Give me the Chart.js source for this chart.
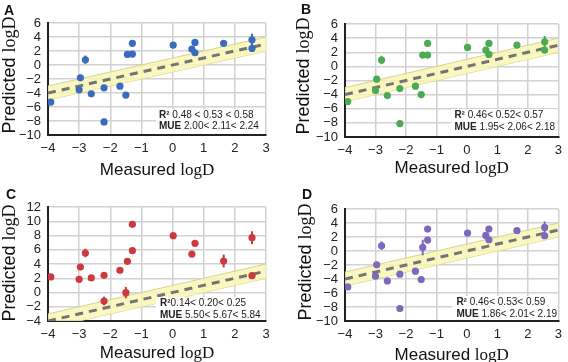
<!DOCTYPE html>
<html>
<head>
<meta charset="utf-8">
<script src="https://cdn.jsdelivr.net/npm/chart.js@4.4.0/dist/chart.umd.min.js"></script>
<style>
  body { margin: 0; background: #fff; }
  #wrap { position: relative; width: 568px; height: 362px; }
  canvas { position: absolute; }
</style>
</head>
<body>
<div id="wrap">
  <canvas id="chartA" width="284" height="181" style="left:0;top:0"></canvas>
  <canvas id="chartB" width="284" height="181" style="left:284px;top:0"></canvas>
  <canvas id="chartC" width="284" height="181" style="left:0;top:181px"></canvas>
  <canvas id="chartD" width="284" height="181" style="left:284px;top:181px"></canvas>
</div>
<script>
// Measured logD (shared by all four panels)
const measured = [-3.91, -2.96, -3.0, -2.8, -2.61, -2.2, -2.2, -1.69, -1.5, -1.45, -1.29, -1.29, 0.02, 0.62, 0.72, 0.72, 1.64, 2.55, 2.55];

// Predicted logD and error bars per panel
const predA = [-5.3, -1.83, -3.55, 0.75, -4.12, -3.26, -8.13, -3.03, -4.3, 1.51, 1.56, 3.09, 2.85, 2.28, 3.23, 1.75, 3.09, 3.61, 2.37];
const errA  = [0.2, 0.3, 0.2, 0.6, 0.2, 0.2, 0.45, 0.2, 0.2, 0.2, 0.2, 0.2, 0.2, 0.2, 0.2, 0.2, 0.2, 0.85, 0.2];
const predB = [-4.98, -1.81, -3.42, 0.89, -4.13, -3.14, -8.1, -2.8, -3.99, 1.6, 1.6, 3.25, 2.69, 2.31, 3.25, 1.69, 3.02, 3.49, 2.31];
const errB  = [0.2, 0.3, 0.2, 0.6, 0.2, 0.2, 0.45, 0.2, 0.2, 0.2, 0.2, 0.2, 0.2, 0.2, 0.2, 0.2, 0.2, 0.8, 0.2];
const predC = [2.18, 3.58, 1.85, 5.54, 2.04, 2.41, -1.19, 3.11, -0.02, 4.37, 5.87, 9.57, 7.98, 5.4, 6.9, null, 4.42, 7.7, 2.36];
const errC  = [0.2, 0.45, 0.2, 0.6, 0.2, 0.2, 0.6, 0.3, 0.8, 0.2, 0.2, 0.3, 0.2, 0.2, 0.2, 0, 0.9, 0.9, 0.2];
const predD = [-5.13, -1.98, -3.6, 0.75, -4.27, -3.31, -8.23, -2.88, -4.08, 0.51, 1.56, 3.13, 2.56, 2.23, 3.13, 1.61, 2.9, 3.37, 2.18];
const errD  = [0.2, 0.3, 0.2, 0.6, 0.2, 0.2, 0.45, 0.2, 0.2, 1.1, 0.2, 0.2, 0.2, 0.2, 0.2, 0.2, 0.2, 0.85, 0.2];

// Identity line and +/-1 band
const lineX = [-4, 3];
const bandHalfWidth = 1;

// Statistics text
const r2Texts  = ['0.48 < 0.53 < 0.58', '0.46< 0.52< 0.57', '0.14< 0.20< 0.25', '0.46< 0.53< 0.59'];
const mueTexts = ['2.00< 2.11< 2.24', '1.95< 2.06< 2.18', '5.50< 5.67< 5.84', '1.86< 2.01< 2.19'];
const r2Gap    = [' ', ' ', '', ' '];

const xRange = [-4, 3];
const yRanges = [[-10, 6], [-10, 6], [-4, 12], [-10, 6]];

const SANS = '"Liberation Sans", Arial, sans-serif';
const SERIF = '"Liberation Serif", "DejaVu Serif", serif';

function minus(v) {
    return v < 0 ? '\u2212' + Math.abs(v) : '' + v;
}

function drawMixed(ctx, sansPart, serifPart, cx, y, size) {
    ctx.font = size + 'px ' + SANS;
    const w1 = ctx.measureText(sansPart).width;
    ctx.font = size + 'px ' + SERIF;
    const w2 = ctx.measureText(serifPart).width;
    const x0 = cx - (w1 + w2) / 2;
    ctx.textAlign = 'left';
    ctx.font = size + 'px ' + SANS;
    ctx.fillText(sansPart, x0, y);
    ctx.font = size + 'px ' + SERIF;
    ctx.fillText(serifPart, x0 + w1, y);
}

// Vertical error bars + white stats box
const errorBars = {
    id: 'errorBars',
    afterDatasetsDraw(chart, args, o) {
        const ctx = chart.ctx, a = chart.chartArea;
        const ys = chart.scales.y;
        const meta = chart.getDatasetMeta(0);
        ctx.save();
        ctx.beginPath();
        ctx.rect(a.left, a.top, a.right - a.left, a.bottom - a.top);
        ctx.clip();
        ctx.strokeStyle = o.color;
        ctx.lineWidth = 2;
        meta.data.forEach((pt, i) => {
            const v = o.pred[i];
            if (v === null || !o.err[i]) return;
            ctx.beginPath();
            ctx.moveTo(pt.x, ys.getPixelForValue(v - o.err[i]));
            ctx.lineTo(pt.x, ys.getPixelForValue(v + o.err[i]));
            ctx.stroke();
        });
        ctx.restore();

        // stats box
        const b1 = a.bottom - o.b1;
        ctx.save();
        ctx.fillStyle = '#fff';
        ctx.fillRect(a.right - o.boxW, b1 - 9, o.boxW - 1, a.bottom - (b1 - 9) - 1);
        ctx.fillStyle = '#222';
        ctx.textBaseline = 'alphabetic';
        ctx.textAlign = 'left';
        const tx = a.right - o.textLeft;
        ctx.font = 'bold 10px ' + SANS;
        ctx.fillText('R\u00b2', tx, b1);
        let w = ctx.measureText('R\u00b2').width;
        ctx.font = '10px ' + SANS;
        ctx.fillText(o.gap + o.r2, tx + w, b1);
        ctx.font = 'bold 10px ' + SANS;
        ctx.fillText('MUE', tx, a.bottom - o.b2);
        w = ctx.measureText('MUE').width;
        ctx.font = '10px ' + SANS;
        ctx.fillText(' ' + o.mue, tx + w, a.bottom - o.b2);
        ctx.restore();
    }
};

// Panel letter and axis titles
const panelText = {
    id: 'panelText',
    afterDraw(chart, args, o) {
        const ctx = chart.ctx, a = chart.chartArea;
        ctx.save();
        ctx.fillStyle = '#111';
        ctx.textBaseline = 'alphabetic';
        ctx.textAlign = 'left';
        ctx.font = 'bold 14px ' + SANS;
        ctx.fillText(o.letter, o.letterX, o.letterY);
        drawMixed(ctx, 'Measured ', 'logD', (a.left + a.right) / 2, o.xTitleY, 17);
        ctx.translate(o.yTitleX, o.yTitleCy);
        ctx.rotate(-Math.PI / 2);
        drawMixed(ctx, 'Predicted ', 'logD', 0, 0, 18);
        ctx.restore();
    }
};

const panels = [
    { id: 'chartA', letter: 'A', pred: predA, err: errA, color: '#3a6cbe',
      area: { left: 48, right: 266, top: 23, bottom: 135 },
      letterX: 4, letterY: 15, xTitleY: 175, yTitleX: 15, yTitleCy: 75,
      textLeft: 107, b1: 17.3, b2: 6, boxW: 110 },
    { id: 'chartB', letter: 'B', pred: predB, err: errB, color: '#4caa54',
      area: { left: 61, right: 277, top: 24, bottom: 137 },
      letterX: 17, letterY: 14, xTitleY: 173, yTitleX: 25, yTitleCy: 76,
      textLeft: 104, b1: 19, b2: 7, boxW: 107 },
    { id: 'chartC', letter: 'C', pred: predC, err: errC, color: '#cc3a40',
      area: { left: 48, right: 266, top: 26, bottom: 140 },
      letterX: 6, letterY: 18, xTitleY: 177, yTitleX: 15, yTitleCy: 82,
      textLeft: 106, b1: 15, b2: 3, boxW: 110 },
    { id: 'chartD', letter: 'D', pred: predD, err: errD, color: '#7e68be',
      area: { left: 61, right: 277, top: 28, bottom: 140 },
      letterX: 18, letterY: 18, xTitleY: 179, yTitleX: 27, yTitleCy: 81,
      textLeft: 102, b1: 16, b2: 4, boxW: 106 }
];

function createPanel(p, idx) {
    const ctx = document.getElementById(p.id);
    const points = measured.map((m, i) => ({ x: m, y: p.pred[i] }));
    const upper = lineX.map(x => ({ x: x, y: x + bandHalfWidth }));
    const lower = lineX.map(x => ({ x: x, y: x - bandHalfWidth }));
    const diag = lineX.map(x => ({ x: x, y: x }));
    const tickFont = { family: SANS, size: 13 };

    new Chart(ctx, {
        type: 'scatter',
        data: {
            datasets: [{
                data: points,
                backgroundColor: p.color,
                borderWidth: 0,
                pointRadius: 3.6,
                order: 1
            }, {
                data: diag,
                showLine: true,
                borderColor: '#737378',
                borderWidth: 3,
                borderDash: [8, 6],
                pointRadius: 0,
                order: 2
            }, {
                data: upper,
                showLine: true,
                borderColor: 'rgb(214,210,150)',
                borderWidth: 1,
                backgroundColor: 'rgba(250,247,180,0.85)',
                fill: '+1',
                pointRadius: 0,
                order: 3
            }, {
                data: lower,
                showLine: true,
                borderColor: 'rgb(214,210,150)',
                borderWidth: 1,
                pointRadius: 0,
                order: 3
            }]
        },
        options: {
            responsive: false,
            animation: false,
            devicePixelRatio: 1,
            layout: { padding: { left: 0, top: p.area.top, right: 284 - p.area.right, bottom: 0 } },
            scales: {
                x: {
                    type: 'linear',
                    min: xRange[0],
                    max: xRange[1],
                    ticks: { stepSize: 1, autoSkip: false, maxRotation: 0, font: tickFont, color: '#222', padding: 6, callback: minus },
                    grid: { color: '#d2d2d2', lineWidth: 1.5, drawTicks: false },
                    border: { color: '#222', width: 2 },
                    afterFit: s => { s.height = 181 - p.area.bottom; }
                },
                y: {
                    min: yRanges[idx][0],
                    max: yRanges[idx][1],
                    ticks: { stepSize: 2, autoSkip: false, font: tickFont, color: '#222', padding: 7, callback: minus },
                    grid: { color: '#d2d2d2', lineWidth: 1.5, drawTicks: false },
                    border: { color: '#222', width: 2 },
                    afterFit: s => { s.width = p.area.left; }
                }
            },
            plugins: {
                legend: { display: false },
                tooltip: { enabled: false },
                errorBars: {
                    color: p.color, pred: p.pred, err: p.err,
                    r2: r2Texts[idx], mue: mueTexts[idx], gap: r2Gap[idx],
                    textLeft: p.textLeft, b1: p.b1, b2: p.b2, boxW: p.boxW
                },
                panelText: {
                    letter: p.letter, letterX: p.letterX, letterY: p.letterY,
                    xTitleY: p.xTitleY, yTitleX: p.yTitleX, yTitleCy: p.yTitleCy
                }
            }
        },
        plugins: [errorBars, panelText]
    });
}

document.addEventListener('DOMContentLoaded', () => panels.forEach(createPanel));
</script>
</body>
</html>
